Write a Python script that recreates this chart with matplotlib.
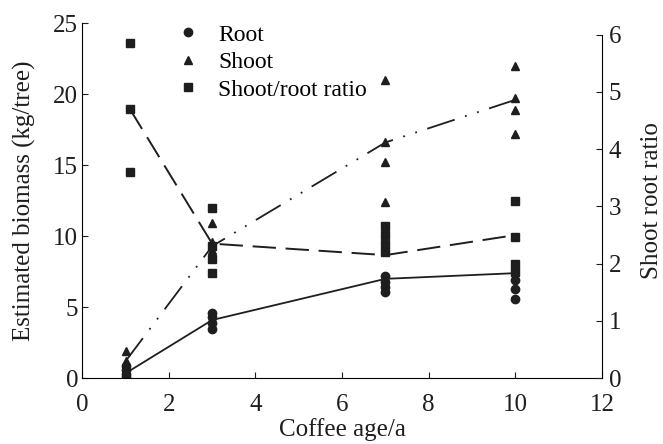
import matplotlib
matplotlib.use("Agg")
import matplotlib.pyplot as plt
from matplotlib.lines import Line2D

plt.rcParams['font.family'] = ['Liberation Serif', 'DejaVu Serif']

# root biomass (kg/tree), individual trees
root_age = [1, 1, 1, 1, 3, 3, 3, 3, 7, 7, 7, 7, 10, 10, 10]
root_vals = [0.1, 0.3, 0.6, 0.9, 3.5, 3.9, 4.3, 4.6, 6.1, 6.4, 6.8, 7.2, 5.6, 6.3, 6.9]
# shoot biomass (kg/tree)
shoot_age = [1, 1, 1, 3, 3, 3, 7, 7, 7, 7, 10, 10, 10, 10]
shoot_vals = [0.6, 1.2, 1.9, 9.0, 9.6, 10.9, 12.4, 15.2, 16.6, 21.0, 17.2, 18.9, 19.7, 22.0]
# shoot/root ratio
ratio_age = [1.1, 1.1, 1.1, 3, 3, 3, 3, 7, 7, 7, 7, 10, 10, 10, 10]
ratio_vals = [3.6, 4.7, 5.85, 1.83, 2.09, 2.31, 2.97, 2.2, 2.35, 2.5, 2.65, 1.85, 2.0, 2.47, 3.1]

# mean lines
mean_age = [1, 3, 7, 10]
ratio_mean_age = [1.1, 3, 7, 10]
root_mean = [0.35, 4.1, 7.0, 7.4]
shoot_mean = [1.2, 9.3, 16.6, 19.6]
ratio_mean = [4.7, 2.35, 2.15, 2.5]

c = '#1e1e1e'
ms = 6
fs = 18

fig = plt.figure(figsize=(6.63, 4.44), dpi=100)
ax = fig.add_axes([0.124, 0.148, 0.784, 0.80])
ax2 = ax.twinx()

# lines
ax.plot(mean_age, root_mean, '-', color=c, lw=1.3)
ax.plot(mean_age, shoot_mean, color=c, lw=1.3, linestyle=(0, (16, 6, 1, 6, 1, 6)))
ax2.plot(ratio_mean_age, ratio_mean, color=c, lw=1.4, linestyle=(0, (12, 5)))

# points
ax.plot(root_age, root_vals, 'o', color=c, ms=ms, ls='none')
ax.plot(shoot_age, shoot_vals, '^', color=c, ms=ms, ls='none')
ax2.plot(ratio_age, ratio_vals, 's', color=c, ms=ms, ls='none')

ax.set_xlim(0, 12)
ax.set_ylim(0, 25)
ax2.set_ylim(0, 6.2)
ax.set_xticks([0, 2, 4, 6, 8, 10, 12])
ax.set_yticks([0, 5, 10, 15, 20, 25])
ax2.set_yticks([0, 1, 2, 3, 4, 5, 6])

for a in (ax, ax2):
    a.spines['top'].set_visible(False)
    a.tick_params(direction='in', length=4, width=0.8, colors=c, labelsize=fs)
ax.spines['right'].set_visible(False)
ax2.spines['left'].set_visible(False)
ax2.spines['bottom'].set_visible(False)
ax2.spines['right'].set_bounds(0, 6)
ax.tick_params(axis='x', pad=11)
ax.tick_params(axis='y', pad=3)
ax2.tick_params(axis='y', pad=5)

ax.set_xlabel('Coffee age/a', fontsize=fs, color=c, labelpad=2)
ax.set_ylabel('Estimated biomass (kg/tree)', fontsize=fs, color=c, labelpad=12)
ax2.set_ylabel('Shoot root ratio', fontsize=fs, color=c, labelpad=14)

handles = [
    Line2D([], [], marker='o', ls='none', color=c, ms=ms),
    Line2D([], [], marker='^', ls='none', color=c, ms=ms),
    Line2D([], [], marker='s', ls='none', color=c, ms=ms),
]
ax.legend(handles, ['Root', 'Shoot', 'Shoot/root ratio'], loc='upper left',
          bbox_to_anchor=(0.181, 0.997), frameon=False, fontsize=17,
          handlelength=1.0, handletextpad=0.77, labelspacing=0.25,
          borderpad=0, borderaxespad=0)

fig.savefig('out.png', dpi=100)
